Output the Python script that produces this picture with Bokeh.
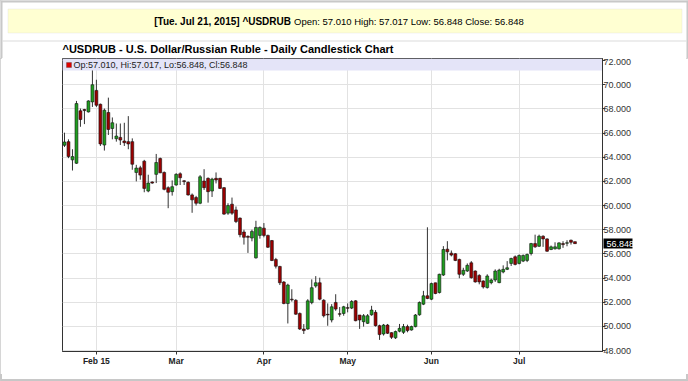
import pandas as pd
from bokeh.plotting import figure
from bokeh.layouts import column
from bokeh.models import (ColumnDataSource, FixedTicker, PrintfTickFormatter,
                          Label, BoxAnnotation, Range1d, LinearAxis)
from bokeh.embed import file_html
from bokeh.resources import INLINE

symbol = "^USDRUB"
chart_title = "^USDRUB - U.S. Dollar/Russian Ruble - Daily Candlestick Chart"
header_bold = "[Tue. Jul 21, 2015] ^USDRUB"
header_rest = "Open: 57.010 High: 57.017 Low: 56.848 Close: 56.848"
legend_text = "Op:57.010, Hi:57.017, Lo:56.848, Cl:56.848"

opens = [64.99, 65.29, 63.78, 63.50, 67.84, 67.95, 67.75, 68.58, 69.53, 68.38,
         65.01, 67.70, 66.38, 65.53, 65.64, 65.34, 65.29, 65.29, 62.74, 63.12,
         63.67, 61.20, 61.95, 62.58, 63.89, 62.74, 61.48, 61.15, 61.70, 62.63,
         62.05, 61.92, 60.88, 60.66, 60.19, 62.03, 62.25, 61.20, 62.25, 62.25,
         61.48, 59.37, 60.11, 59.64, 58.96, 57.81, 57.45, 57.31, 55.67, 57.53,
         58.13, 57.53, 57.10, 55.53, 54.96, 53.67, 51.89, 52.25, 52.16, 51.07,
         49.78, 49.78, 51.97, 53.34, 53.61, 52.16, 51.00, 50.53, 51.98, 51.05,
         51.07, 51.55, 51.51, 52.11, 50.94, 50.39, 50.25, 50.96, 51.16, 50.06,
         49.37, 50.11, 49.48, 49.05, 49.60, 49.51, 49.98, 49.70, 49.98, 50.96,
         51.84, 52.53, 52.25, 53.60, 52.80, 54.25, 56.39, 56.06, 56.01, 55.54,
         54.31, 54.58, 55.26, 54.58, 54.22, 53.76, 53.21, 53.62, 53.84, 53.62,
         54.50, 54.72, 55.21, 55.76, 55.21, 55.40, 55.46, 56.03, 56.85, 56.63,
         57.46, 57.24, 56.36, 56.42, 56.42, 56.85, 56.88, 57.13, 57.010]
highs = [66.03, 65.48, 64.66, 68.66, 68.03, 68.00, 68.71, 71.18, 70.41, 68.44,
         68.03, 68.93, 67.29, 66.79, 66.79, 66.85, 67.40, 65.56, 63.37, 63.29,
         63.78, 62.55, 62.00, 64.27, 63.97, 62.82, 61.59, 62.08, 62.68, 62.75,
         62.10, 62.00, 61.00, 60.80, 62.52, 63.01, 62.33, 62.30, 62.74, 62.30,
         61.53, 60.19, 60.66, 59.92, 59.01, 58.00, 57.53, 58.00, 58.74, 58.27,
         58.55, 57.59, 57.15, 55.67, 55.01, 53.75, 53.53, 53.07, 52.25, 51.15,
         50.19, 52.25, 53.89, 54.16, 54.03, 52.25, 51.90, 51.84, 52.66, 51.60,
         51.70, 51.90, 52.17, 52.17, 50.94, 51.02, 51.02, 51.70, 51.35, 50.14,
         50.20, 50.20, 49.51, 49.65, 50.20, 50.20, 50.14, 50.06, 51.02, 52.06,
         52.94, 58.20, 53.62, 53.62, 54.36, 56.64, 57.05, 56.28, 56.06, 55.60,
         54.85, 55.21, 55.40, 54.63, 54.31, 53.81, 54.31, 53.95, 54.72, 54.77,
         55.05, 55.40, 55.68, 55.87, 55.95, 55.95, 56.03, 56.91, 57.59, 57.59,
         57.54, 57.29, 56.69, 56.96, 56.96, 57.05, 57.13, 57.18, 57.017]
lows = [64.85, 63.92, 62.90, 63.45, 66.52, 66.74, 67.70, 68.16, 68.16, 64.93,
        64.55, 65.84, 65.48, 65.29, 65.01, 64.93, 64.66, 62.96, 62.00, 62.14,
        61.10, 61.10, 61.80, 61.86, 62.68, 61.26, 59.78, 60.82, 61.64, 61.70,
        61.70, 60.82, 59.40, 60.00, 60.11, 61.29, 60.24, 60.71, 61.83, 61.37,
        59.23, 59.23, 59.23, 58.55, 57.37, 56.77, 56.08, 57.04, 55.61, 57.26,
        57.37, 56.49, 55.40, 54.79, 53.42, 51.83, 50.24, 52.05, 50.96, 49.70,
        49.37, 49.72, 51.83, 53.20, 52.16, 50.74, 50.05, 50.33, 51.29, 50.80,
        50.88, 51.16, 51.43, 50.42, 49.79, 49.98, 50.20, 50.88, 49.98, 48.88,
        49.24, 49.37, 48.96, 48.96, 49.51, 49.37, 49.51, 49.65, 49.92, 50.88,
        51.76, 52.25, 52.17, 52.66, 52.72, 54.17, 55.46, 55.79, 55.40, 53.98,
        54.17, 54.50, 53.95, 53.62, 53.48, 53.13, 53.13, 53.48, 53.68, 53.57,
        54.39, 54.66, 55.00, 55.05, 55.13, 55.32, 55.32, 55.87, 56.50, 56.58,
        56.58, 56.17, 56.31, 56.36, 56.36, 56.50, 56.63, 56.77, 56.848]
closes = [65.26, 64.05, 64.05, 68.44, 67.12, 67.86, 68.66, 70.00, 68.30, 65.10,
          67.89, 66.30, 66.85, 65.75, 65.42, 65.20, 65.10, 63.42, 63.10, 62.52,
          61.42, 61.86, 61.86, 63.56, 62.71, 61.34, 61.10, 61.56, 62.58, 62.30,
          61.98, 60.88, 60.47, 60.19, 62.38, 61.48, 61.15, 62.19, 62.11, 61.42,
          59.29, 60.00, 59.37, 58.68, 57.59, 57.37, 57.37, 57.86, 58.19, 58.19,
          57.53, 56.55, 55.45, 54.98, 53.61, 51.89, 53.42, 52.20, 51.01, 49.78,
          49.65, 52.11, 53.20, 53.61, 52.25, 50.88, 50.95, 51.62, 51.43, 51.00,
          51.62, 51.50, 52.06, 50.47, 50.53, 50.88, 50.88, 51.35, 50.06, 49.32,
          50.11, 49.43, 49.10, 49.57, 49.84, 49.98, 49.65, 49.98, 50.94, 51.98,
          52.53, 52.31, 53.54, 52.72, 54.31, 56.36, 56.17, 55.90, 55.46, 54.31,
          54.64, 55.05, 54.03, 53.68, 53.68, 53.26, 54.17, 53.84, 54.58, 54.66,
          54.72, 54.85, 55.62, 55.13, 55.87, 55.87, 55.95, 56.85, 56.58, 57.46,
          57.24, 56.22, 56.58, 56.58, 56.91, 56.77, 56.92, 56.96, 56.848]

trade_dates = [d for d in pd.bdate_range("2015-01-21", "2015-07-21")
               if d != pd.Timestamp("2015-04-03")]
month_labels = ["Feb 15", "Mar", "Apr", "May", "Jun", "Jul"]
price_ticks = [48, 50, 52, 54, 56, 58, 60, 62, 64, 66, 68, 70, 72]

n = len(opens)
idx = list(range(n))
tick_idx = []
for i in range(1, n):
    if trade_dates[i].month != trade_dates[i - 1].month:
        tick_idx.append(i)

UP = "#1E9E1E"
DOWN = "#9C0000"
src = ColumnDataSource(dict(
    x=idx, o=opens, h=highs, l=lows, c=closes,
    top=[max(a, b) for a, b in zip(opens, closes)],
    bot=[min(a, b) for a, b in zip(opens, closes)],
    col=[UP if c > o else DOWN for o, c in zip(opens, closes)],
))

FONT = "Liberation Sans"
EDGE = "#C8C8C8"


def cbox(fig, left, right, top, bottom, **kw):
    fig.add_layout(BoxAnnotation(left=left, right=right, top=top, bottom=bottom,
                                 left_units="canvas", right_units="canvas",
                                 top_units="canvas", bottom_units="canvas", **kw))


# ---------------- header ----------------
hdr = figure(width=688, height=58, output_backend="svg", toolbar_location=None,
             title=None, x_range=Range1d(0, 688), y_range=Range1d(58, 0),
             x_axis_location=None, y_axis_location=None,
             min_border_left=0, min_border_right=0, min_border_top=0, min_border_bottom=0)
hdr.frame_align = False
hdr.grid.visible = False
hdr.outline_line_color = None
hdr.background_fill_color = "white"
hdr.border_fill_color = "white"
cbox(hdr, 0, 688, 0, 2, fill_color=EDGE, fill_alpha=1, line_alpha=0)
cbox(hdr, 0, 2, 0, 58, fill_color=EDGE, fill_alpha=1, line_alpha=0)
cbox(hdr, 686, 688, 0, 58, fill_color=EDGE, fill_alpha=1, line_alpha=0)
cbox(hdr, 7.5, 681.5, 8.5, 32.5, fill_color="#FFFFD2", fill_alpha=1,
     line_color="#D4D4D4", line_width=1)
cbox(hdr, 2, 686, 40, 41, fill_color="#DCDCDC", fill_alpha=1, line_alpha=0)
split_x = 290.5
hdr.add_layout(Label(x=split_x, y=20.5, x_units="canvas", y_units="canvas", text=header_bold,
                     text_font=FONT, text_font_size="10px", text_font_style="bold",
                     text_align="right", text_baseline="middle", text_color="#000000"))
hdr.add_layout(Label(x=split_x + 3, y=20.5, x_units="canvas", y_units="canvas", text=header_rest,
                     text_font=FONT, text_font_size="9.5px", text_align="left",
                     text_baseline="middle", text_color="#000000"))
hdr.add_layout(Label(x=62, y=48.5, x_units="canvas", y_units="canvas", text=chart_title,
                     text_font=FONT, text_font_size="11px", text_font_style="bold",
                     text_baseline="middle", text_color="#000000"))

# ---------------- main chart ----------------
p = figure(width=688, height=316, output_backend="svg", toolbar_location=None,
           title=None, x_range=Range1d(-0.5, 134.9), y_range=Range1d(47.92, 72.17),
           y_axis_location="right", x_axis_location="below",
           min_border_left=62, min_border_right=86, min_border_top=0,
           min_border_bottom=23)
p.frame_align = False
p.background_fill_color = "white"
p.border_fill_color = "white"
p.outline_line_color = "#333333"
p.outline_line_width = 1

p.xgrid.ticker = FixedTicker(ticks=tick_idx)
p.ygrid.ticker = FixedTicker(ticks=price_ticks)
p.grid.grid_line_color = "#E2E2E2"
p.grid.grid_line_width = 1

p.yaxis.ticker = FixedTicker(ticks=price_ticks)
p.yaxis.formatter = PrintfTickFormatter(format="%.3f")
p.yaxis.major_label_text_font = FONT
p.yaxis.major_label_text_font_size = "9px"
p.yaxis.major_label_text_color = "#333333"
p.yaxis.axis_line_color = "#333333"
p.yaxis.major_tick_line_color = "#333333"
p.yaxis.major_tick_in = 0
p.yaxis.major_tick_out = 3
p.yaxis.minor_tick_line_color = None
p.yaxis.major_label_standoff = -2

p.xaxis.ticker = FixedTicker(ticks=tick_idx)
p.xaxis.major_label_overrides = {t: lab for t, lab in zip(tick_idx, month_labels)}
p.xaxis.major_label_text_font = FONT
p.xaxis.major_label_text_font_size = "8.5px"
p.xaxis.major_label_text_font_style = "bold"
p.xaxis.major_label_text_color = "#222222"
p.xaxis.axis_line_color = "#333333"
p.xaxis.major_tick_line_color = "#333333"
p.xaxis.major_tick_in = 0
p.xaxis.major_tick_out = 3
p.xaxis.minor_tick_line_color = None
p.xaxis.major_label_standoff = 1

# last close marker: an outer right axis whose single tick is drawn as a black bar
last_axis = LinearAxis(ticker=FixedTicker(ticks=[closes[-1]]),
                       formatter=PrintfTickFormatter(format="%.3f"),
                       axis_line_color=None, minor_tick_line_color=None,
                       major_tick_in=31, major_tick_out=-2,
                       major_tick_line_width=10, major_tick_line_color="black",
                       major_tick_line_cap="butt",
                       major_label_standoff=-28, major_label_text_color="white",
                       major_label_text_font=FONT, major_label_text_font_size="9px")
p.add_layout(last_axis, "right")

# legend band inside the frame
cbox(p, 62, 602, 0, 12, fill_color="#E4E4F8", fill_alpha=1, line_alpha=0, level="underlay")

p.segment(x0="x", y0="l", x1="x", y1="h", source=src, line_color="#333333", line_width=1)
p.vbar(x="x", width=0.72, top="top", bottom="bot", source=src,
       fill_color="col", line_color="#111111", line_width=0.6)

cbox(p, 66, 71, 4, 9, fill_color="#DD0000", fill_alpha=1, line_color="#333333", line_width=1)
p.add_layout(Label(x=73, y=6.5, x_units="canvas", y_units="canvas", text=legend_text,
                   text_font=FONT, text_font_size="9px", text_baseline="middle",
                   text_color="#222222"))

# ---------------- footer band ----------------
ftr = figure(width=688, height=7, output_backend="svg", toolbar_location=None,
             title=None, x_range=Range1d(0, 688), y_range=Range1d(7, 0),
             x_axis_location=None, y_axis_location=None,
             min_border_left=0, min_border_right=0, min_border_top=0, min_border_bottom=0)
ftr.frame_align = False
ftr.grid.visible = False
ftr.outline_line_color = None
ftr.background_fill_color = "#D0D0D0"
ftr.border_fill_color = "#D0D0D0"
cbox(ftr, 0, 688, 0, 1, fill_color="#BDBDBD", fill_alpha=1, line_alpha=0)

page = column(hdr, p, ftr, spacing=0,
              styles={"outline": "2px solid " + EDGE, "outline-offset": "-2px"})

open("out.html", "w").write(file_html(page, INLINE))
